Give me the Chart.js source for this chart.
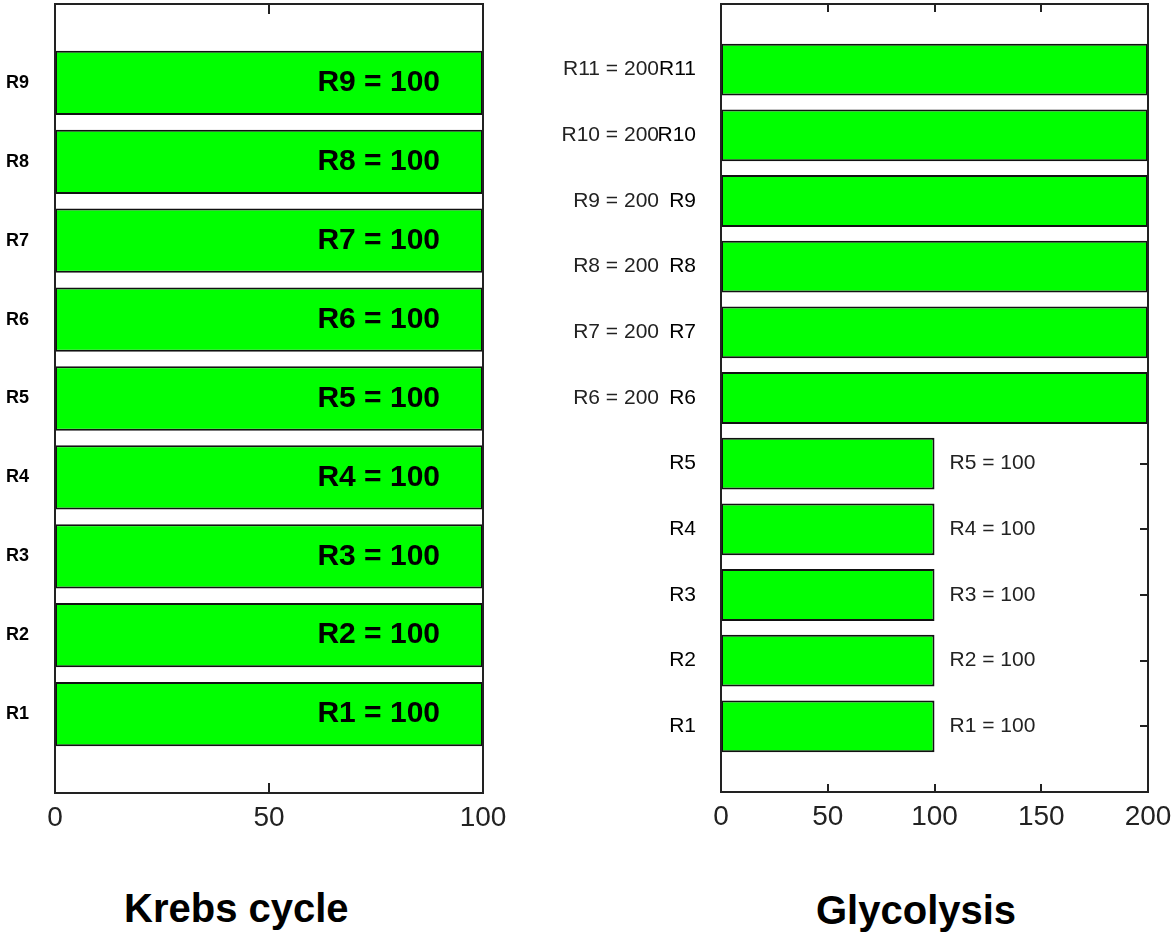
<!DOCTYPE html>
<html>
<head>
<meta charset="utf-8">
<script src="https://cdn.jsdelivr.net/npm/chart.js@4/dist/chart.umd.min.js"></script>
<style>
  html, body { margin: 0; padding: 0; background: #fff; }
  body { width: 1173px; height: 934px; position: relative; overflow: hidden;
         font-family: "Liberation Sans", Arial, Helvetica, sans-serif; }
  .panel { position: absolute; top: 0; }
  #krebsBox { left: 0; }
  #glyBox { left: 560px; }
  .caption { position: absolute; font-weight: bold; font-size: 40px; line-height: 40px;
             color: #000; white-space: nowrap; }
</style>
</head>
<body>
<div class="panel" id="krebsBox"><canvas id="krebs" width="520" height="860"></canvas></div>
<div class="panel" id="glyBox"><canvas id="gly" width="613" height="860"></canvas></div>
<div class="caption" style="left:124px; top:888px;">Krebs cycle</div>
<div class="caption" style="left:816px; top:890px;">Glycolysis</div>

<script>
// Reaction fluxes, bottom to top
const krebsReactions = ['R1', 'R2', 'R3', 'R4', 'R5', 'R6', 'R7', 'R8', 'R9'];
const krebsFlux      = [100, 100, 100, 100, 100, 100, 100, 100, 100];
const krebsTicks     = [0, 50, 100];

const glyReactions = ['R1', 'R2', 'R3', 'R4', 'R5', 'R6', 'R7', 'R8', 'R9', 'R10', 'R11'];
const glyFlux      = [100, 100, 100, 100, 100, 200, 200, 200, 200, 200, 200];
const glyTicks     = [0, 50, 100, 150, 200];

const FONT = '"Liberation Sans", Arial, Helvetica, sans-serif';

// Boxed axes with inward tick marks, plus "Rn = value" annotations
const boxAxes = {
  id: 'boxAxes',
  beforeDatasetsDraw(chart, args, o) {
    const { ctx, chartArea: a, scales: { x, y } } = chart;
    ctx.save();
    ctx.strokeStyle = '#222';
    ctx.lineWidth = 2;
    ctx.beginPath();
    x.ticks.forEach(t => {
      const px = Math.round(x.getPixelForValue(t.value));
      ctx.moveTo(px, a.bottom); ctx.lineTo(px, a.bottom - o.tickLen);
      ctx.moveTo(px, a.top);    ctx.lineTo(px, a.top + o.tickLen);
    });
    chart.data.labels.forEach((lab, i) => {
      if (!lab) return;
      const py = Math.round(y.getPixelForValue(i));
      ctx.moveTo(a.left, py);  ctx.lineTo(a.left + o.tickLen, py);
      ctx.moveTo(a.right, py); ctx.lineTo(a.right - o.tickLen, py);
    });
    ctx.stroke();
    ctx.restore();
  },
  afterDatasetsDraw(chart, args, o) {
    const { ctx, chartArea: a, scales: { x } } = chart;
    ctx.save();
    ctx.strokeStyle = '#222';
    ctx.lineWidth = 2;
    ctx.strokeRect(a.left, a.top, a.right - a.left, a.bottom - a.top);

    const meta = chart.getDatasetMeta(0);
    const data = chart.data.datasets[0].data;
    ctx.fillStyle = o.labelColor;
    ctx.font = o.labelFont;
    ctx.textBaseline = 'middle';
    meta.data.forEach((bar, i) => {
      const v = data[i];
      if (v === null || v === undefined) return;
      const text = chart.data.labels[i] + ' = ' + v;
      if (o.inside) {
        ctx.textAlign = 'right';
        ctx.fillText(text, bar.x - o.inset, bar.y);
      } else if (v >= x.max) {
        ctx.textAlign = 'right';
        ctx.fillText(text, a.left - o.leftGap, bar.y);
      } else {
        ctx.textAlign = 'left';
        ctx.fillText(text, bar.x + o.outset, bar.y);
      }
    });
    ctx.restore();
  }
};

function makePanel(canvasId, reactions, flux, ticks, cfg) {
  const labels = [''].concat(reactions, ['']);
  const values = [null].concat(flux, [null]);
  return new Chart(document.getElementById(canvasId), {
    type: 'bar',
    data: {
      labels: labels,
      datasets: [{
        data: values,
        backgroundColor: '#00ff00',
        borderColor: '#111',
        borderWidth: 2,
        borderSkipped: false,
        barPercentage: cfg.barPct,
        categoryPercentage: 1
      }]
    },
    options: {
      indexAxis: 'y',
      responsive: false,
      animation: false,
      events: [],
      layout: { padding: { top: 4, right: cfg.padRight, left: 0, bottom: 0 } },
      plugins: {
        legend: { display: false },
        tooltip: { enabled: false },
        boxAxes: cfg.box
      },
      scales: {
        y: {
          type: 'category',
          reverse: true,
          offset: false,
          grid: { display: false, drawTicks: false },
          border: { display: false },
          ticks: {
            autoSkip: false,
            padding: cfg.yPad,
            color: '#000',
            font: cfg.yFont,
            callback: function (v) {
              const l = this.getLabelForValue(v);
              return l === '' ? null : l;
            }
          },
          afterFit(s) { s.width = cfg.yWidth; s.paddingTop = 0; s.paddingBottom = 0; }
        },
        x: {
          type: 'linear',
          min: ticks[0],
          max: ticks[ticks.length - 1],
          afterBuildTicks(s) { s.ticks = ticks.map(v => ({ value: v })); },
          grid: { display: false, drawTicks: false },
          border: { display: false },
          ticks: {
            autoSkip: false,
            maxRotation: 0,
            padding: 8,
            color: '#222',
            font: { family: FONT, size: 28 }
          },
          afterFit(s) { s.height = cfg.xHeight; s.paddingLeft = 0; s.paddingRight = 0; }
        }
      }
    },
    plugins: [boxAxes]
  });
}

makePanel('krebs', krebsReactions, krebsFlux, krebsTicks, {
  barPct: 0.815,
  padRight: 37,
  yWidth: 55,
  yPad: 26,
  yFont: { family: FONT, size: 18, weight: 'bold' },
  xHeight: 67,
  box: { tickLen: 10, inside: true, inset: 43,
         labelFont: 'bold 30px ' + FONT, labelColor: '#000' }
});

makePanel('gly', glyReactions, glyFlux, glyTicks, {
  barPct: 0.79,
  padRight: 25,
  yWidth: 161,
  yPad: 25,
  yFont: { family: FONT, size: 21 },
  xHeight: 68,
  box: { tickLen: 8, inside: false, outset: 15, leftGap: 62,
         labelFont: '21px ' + FONT, labelColor: '#222' }
});
</script>
</body>
</html>
